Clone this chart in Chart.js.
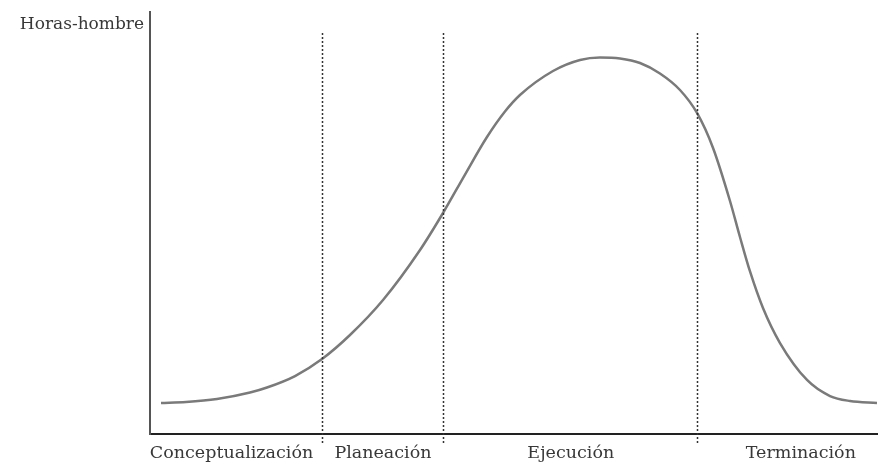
<!DOCTYPE html>
<html>
<head>
<meta charset="utf-8">
<script src="https://cdn.jsdelivr.net/npm/chart.js@4/dist/chart.umd.min.js"></script>
<style>
html,body{margin:0;padding:0;background:#fff;}
canvas{display:block;}
</style>
</head>
<body>
<canvas id="c" width="878" height="464"></canvas>
<script>
// Time axis (0-100 % of project), effort (0-100 relative)
const timeValues = [1.51, 4.95, 9.20, 13.74, 16.07, 19.92, 23.63, 27.47, 32.01, 37.09, 40.25, 43.27, 46.29, 48.76, 50.82, 55.36, 59.07, 61.81, 64.56, 67.31, 70.05, 72.80, 75.14, 77.34, 79.67, 81.04, 82.42, 84.20, 86.54, 90.25, 93.41, 96.15, 99.86];
const effortValues = [7.35, 7.58, 8.29, 9.83, 11.02, 13.74, 17.77, 23.46, 31.75, 43.60, 52.37, 61.49, 70.38, 76.42, 80.33, 86.02, 88.63, 89.22, 88.98, 87.91, 85.43, 81.52, 76.07, 67.77, 55.21, 46.68, 38.51, 29.86, 21.56, 12.80, 9.00, 7.82, 7.35];
const phaseBoundaries = [23.6, 40.2, 75.1];
const phaseLabels = ["Conceptualización", "Planeación", "Ejecución", "Terminación"];
const phaseLabelCenters = [11.2, 32.0, 57.8, 89.4];
const yAxisTitle = "Horas-hombre";

const points = timeValues.map((t, i) => ({x: t, y: effortValues[i]}));

const overlay = {
  id: 'overlay',
  afterDraw(chart) {
    const ctx = chart.ctx;
    const xs = chart.scales.x;
    const area = chart.chartArea;
    ctx.save();
    // phase boundaries
    ctx.strokeStyle = '#333';
    ctx.lineWidth = 1.5;
    ctx.setLineDash([2, 2]);
    phaseBoundaries.forEach(b => {
      const px = Math.round(xs.getPixelForValue(b)) + 0.5;
      ctx.beginPath();
      ctx.moveTo(px, 33);
      ctx.lineTo(px, area.bottom + 10);
      ctx.stroke();
    });
    ctx.setLineDash([]);
    // phase labels
    ctx.fillStyle = '#383838';
    ctx.font = '17.5px "DejaVu Serif"';
    ctx.textAlign = 'center';
    ctx.textBaseline = 'alphabetic';
    phaseLabels.forEach((l, i) => {
      ctx.fillText(l, xs.getPixelForValue(phaseLabelCenters[i]), 458);
    });
    // y title
    ctx.textAlign = 'right';
    ctx.font = '17px "DejaVu Serif"';
    ctx.fillText(yAxisTitle, area.left - 6, 29);
    ctx.restore();
  }
};

new Chart(document.getElementById('c'), {
  type: 'line',
  data: {
    datasets: [{
      data: points,
      borderColor: '#7a7a7a',
      borderWidth: 2.5,
      pointRadius: 0,
      cubicInterpolationMode: 'monotone',
      fill: false
    }]
  },
  options: {
    responsive: false,
    animation: false,
    layout: {padding: {left: 150, top: 12, right: 0, bottom: 30}},
    plugins: {legend: {display: false}, tooltip: {enabled: false}},
    scales: {
      x: {
        type: 'linear', min: 0, max: 100,
        ticks: {display: false},
        grid: {display: false, drawTicks: false},
        border: {display: true, color: '#222', width: 2}
      },
      y: {
        min: 0, max: 100,
        ticks: {display: false},
        grid: {display: false, drawTicks: false},
        border: {display: true, color: '#555', width: 2}
      }
    }
  },
  plugins: [overlay]
});
</script>
</body>
</html>
